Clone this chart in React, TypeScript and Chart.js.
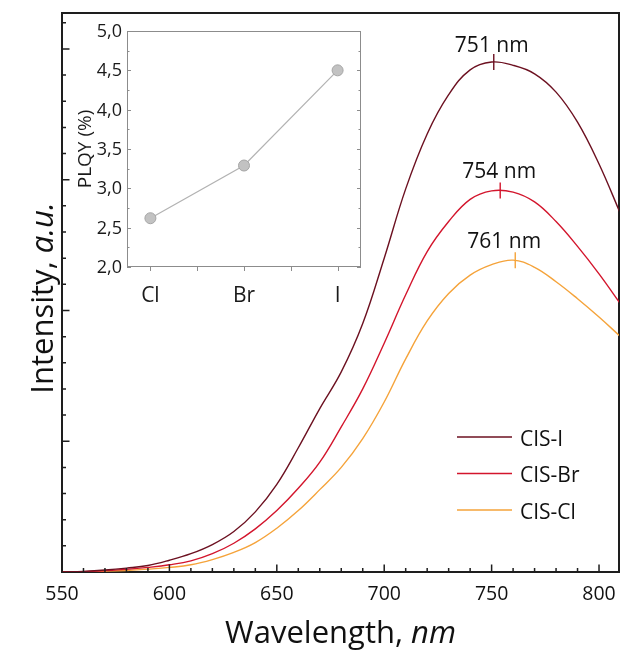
import React, { useEffect, useRef } from "react";
import { Chart, registerables } from "chart.js";

Chart.register(...registerables);

// ---------- data ----------
const wavelengths = [550, 560, 570, 580, 590, 600, 610, 620, 630, 640, 650, 660, 670, 680, 690, 700, 710, 720, 730, 740, 750, 760, 770, 780, 790, 800, 810];
const intensityI = [0, 0.005, 0.015, 0.03, 0.05, 0.09, 0.14, 0.21, 0.31, 0.46, 0.67, 0.95, 1.25, 1.53, 1.9, 2.4, 2.93, 3.35, 3.65, 3.84, 3.9, 3.875, 3.81, 3.67, 3.44, 3.12, 2.74];
const intensityBr = [0, 0.003, 0.01, 0.02, 0.035, 0.055, 0.085, 0.14, 0.22, 0.33, 0.47, 0.64, 0.84, 1.11, 1.4, 1.75, 2.12, 2.45, 2.68, 2.85, 2.915, 2.905, 2.83, 2.68, 2.49, 2.28, 2.05];
const intensityCl = [0, 0.002, 0.006, 0.012, 0.022, 0.035, 0.055, 0.095, 0.15, 0.225, 0.335, 0.47, 0.63, 0.8, 1.02, 1.3, 1.63, 1.92, 2.13, 2.27, 2.35, 2.385, 2.33, 2.22, 2.09, 1.95, 1.8];
const seriesLabels = ["CIS-I", "CIS-Br", "CIS-Cl"];
const peakWavelengths = [751, 754, 761];
const peakIntensities = [3.9, 2.918, 2.385];
const peakLabels = ["751 nm", "754 nm", "761 nm"];
const xTickValues = [550, 600, 650, 700, 750, 800];

const halides = ["Cl", "Br", "I"];
const plqy = [2.62, 3.29, 4.5];
const plqyTicks = [2.0, 2.5, 3.0, 3.5, 4.0, 4.5, 5.0];

// ---------- styles ----------
const FONT = '"Open Sans", "Noto Sans", sans-serif';
const seriesColors = ["#6c1020", "#d3152c", "#f5a33a"];
const peakLabelOffsets = [
  [-2, -10],
  [-1, -12],
  [-11, -12],
];

function drawMixed(
  ctx: CanvasRenderingContext2D,
  parts: [string, boolean][],
  size: number,
  cx: number,
  baseY: number
) {
  let total = 0;
  const widths = parts.map(([t, it]) => {
    ctx.font = `${it ? "italic " : ""}${size}px ${FONT}`;
    const w = ctx.measureText(t).width;
    total += w;
    return w;
  });
  let x = cx - total / 2;
  ctx.textAlign = "left";
  ctx.textBaseline = "alphabetic";
  parts.forEach(([t, it], i) => {
    ctx.font = `${it ? "italic " : ""}${size}px ${FONT}`;
    ctx.fillText(t, x, baseY);
    x += widths[i];
  });
}

const mainDecor = {
  id: "mainDecor",
  beforeDatasetsDraw(chart: any) {
    const { ctx, chartArea: a } = chart;
    ctx.save();
    ctx.strokeStyle = "#1e1e1e";
    ctx.lineWidth = 2;
    ctx.strokeRect(a.left, a.top, a.right - a.left, a.bottom - a.top);
    ctx.restore();
  },
  afterDraw(chart: any) {
    const { ctx, chartArea: a } = chart;
    const xs = chart.scales.x;
    const ys = chart.scales.y;
    ctx.save();
    ctx.strokeStyle = "#1e1e1e";
    ctx.lineWidth = 1.5;
    ctx.beginPath();
    for (let v = 550; v <= xs.max; v += 10) {
      const px = xs.getPixelForValue(v);
      const len = v % 50 === 0 ? 7.5 : 4;
      ctx.moveTo(px, a.bottom);
      ctx.lineTo(px, a.bottom - len);
    }
    for (let k = 1; k * 0.2 <= ys.max; k++) {
      const py = ys.getPixelForValue(k * 0.2);
      const len = k % 5 === 0 ? 7.5 : 4;
      ctx.moveTo(a.left, py);
      ctx.lineTo(a.left + len, py);
    }
    ctx.stroke();

    // x tick labels
    ctx.fillStyle = "#111";
    ctx.font = `19.5px ${FONT}`;
    ctx.textAlign = "center";
    ctx.textBaseline = "alphabetic";
    xTickValues.forEach((v) => ctx.fillText(String(v), xs.getPixelForValue(v), 600));

    // axis titles
    drawMixed(ctx, [["Wavelength, ", false], ["nm", true]], 31, (a.left + a.right) / 2, 643);
    ctx.save();
    ctx.translate(53, 298);
    ctx.rotate(-Math.PI / 2);
    drawMixed(ctx, [["Intensity, ", false], ["a.u.", true]], 31, 0, 0);
    ctx.restore();

    // peak labels
    ctx.font = `21px ${FONT}`;
    ctx.textAlign = "center";
    ctx.fillStyle = "#111";
    peakLabels.forEach((lab, i) => {
      const px = xs.getPixelForValue(peakWavelengths[i]);
      const py = ys.getPixelForValue(peakIntensities[i]);
      ctx.fillText(lab, px + peakLabelOffsets[i][0], py + peakLabelOffsets[i][1]);
    });

    // legend
    seriesLabels.forEach((lab, i) => {
      const ly = 437 + i * 36.5;
      ctx.strokeStyle = seriesColors[i];
      ctx.lineWidth = 1.5;
      ctx.beginPath();
      ctx.moveTo(457, ly);
      ctx.lineTo(512, ly);
      ctx.stroke();
      ctx.fillStyle = "#111";
      ctx.font = `21px ${FONT}`;
      ctx.textAlign = "left";
      ctx.fillText(lab, 520, ly + 8.5);
    });
    ctx.restore();
  },
};

const insetDecor = {
  id: "insetDecor",
  beforeDatasetsDraw(chart: any) {
    const { ctx, chartArea: a } = chart;
    const xs = chart.scales.x;
    const ys = chart.scales.y;
    ctx.save();
    ctx.fillStyle = "#ffffff";
    ctx.fillRect(a.left, a.top, a.right - a.left, a.bottom - a.top);
    ctx.strokeStyle = "#8c8c8c";
    ctx.lineWidth = 1;
    ctx.strokeRect(a.left + 0.5, a.top + 0.5, a.right - a.left - 1, a.bottom - a.top - 1);
    ctx.beginPath();
    for (let k = 0; k <= 12; k++) {
      const v = 2 + k * 0.25;
      const py = Math.round(ys.getPixelForValue(v)) + 0.5;
      const len = k % 2 === 0 ? 4 : 2.5;
      ctx.moveTo(a.left, py);
      ctx.lineTo(a.left + len, py);
      ctx.moveTo(a.right, py);
      ctx.lineTo(a.right - len, py);
    }
    for (let k = 0; k <= 4; k++) {
      const px = Math.round(xs.getPixelForValue(k * 0.5)) + 0.5;
      ctx.moveTo(px, a.bottom);
      ctx.lineTo(px, a.bottom + 4);
    }
    ctx.stroke();
    ctx.restore();
  },
  afterDraw(chart: any) {
    const { ctx, chartArea: a } = chart;
    const xs = chart.scales.x;
    const ys = chart.scales.y;
    ctx.save();
    ctx.fillStyle = "#1a1a1a";
    ctx.font = `18px ${FONT}`;
    ctx.textAlign = "right";
    ctx.textBaseline = "middle";
    plqyTicks.forEach((v) => {
      ctx.fillText(v.toFixed(1).replace(".", ","), a.left - 5, ys.getPixelForValue(v) + 1);
    });
    ctx.font = `21px ${FONT}`;
    ctx.textAlign = "center";
    ctx.textBaseline = "alphabetic";
    halides.forEach((h, i) => ctx.fillText(h, xs.getPixelForValue(i), 302));
    ctx.save();
    ctx.translate(91, (a.top + a.bottom) / 2);
    ctx.rotate(-Math.PI / 2);
    ctx.font = `19px ${FONT}`;
    ctx.textAlign = "center";
    ctx.fillText("PLQY (%)", 0, 0);
    ctx.restore();
    ctx.restore();
  },
};

export default function App() {
  const mainRef = useRef<HTMLCanvasElement>(null);
  const insetRef = useRef<HTMLCanvasElement>(null);

  useEffect(() => {
    const series = [intensityI, intensityBr, intensityCl];
    const lineSets = series.map((vals, i) => ({
      type: "line" as const,
      label: seriesLabels[i],
      data: wavelengths.map((w, j) => ({ x: w, y: vals[j] })),
      borderColor: seriesColors[i],
      borderWidth: 1.4,
      pointRadius: 0,
      fill: false,
      tension: 0.4,
    }));
    const peakSets = peakWavelengths.map((w, i) => ({
      type: "scatter" as const,
      label: peakLabels[i],
      data: [{ x: w, y: peakIntensities[i] }],
      showLine: false,
      pointStyle: "line" as const,
      rotation: 90,
      pointRadius: 8,
      pointBorderWidth: 1.4,
      borderColor: seriesColors[i],
      pointBorderColor: seriesColors[i],
    }));
    const main = new Chart(mainRef.current as HTMLCanvasElement, {
      type: "line",
      data: { datasets: [...lineSets, ...peakSets] as any },
      options: {
        animation: false,
        responsive: false,
        devicePixelRatio: 1,
        layout: { autoPadding: false, padding: { left: 62, right: 1, top: 13, bottom: 78 } },
        scales: {
          x: { type: "linear", min: 550, max: 809.3, display: false },
          y: { type: "linear", min: 0, max: 4.275, display: false },
        },
        plugins: { legend: { display: false }, tooltip: { enabled: false } },
      },
      plugins: [mainDecor],
    });

    const inset = new Chart(insetRef.current as HTMLCanvasElement, {
      type: "line",
      data: {
        datasets: [
          {
            label: "PLQY",
            data: halides.map((h, i) => ({ x: i, y: plqy[i] })),
            borderColor: "#b2b2b2",
            borderWidth: 1.2,
            pointRadius: 5.5,
            pointBackgroundColor: "#c2c2c2",
            pointBorderColor: "#a6a6a6",
            pointBorderWidth: 1,
            tension: 0,
          },
        ],
      },
      options: {
        animation: false,
        responsive: false,
        devicePixelRatio: 1,
        layout: { autoPadding: false, padding: { left: 127, right: 259, top: 31, bottom: 383 } },
        scales: {
          x: { type: "linear", min: -0.25, max: 2.25, display: false },
          y: { type: "linear", min: 2, max: 5, display: false },
        },
        plugins: { legend: { display: false }, tooltip: { enabled: false } },
      },
      plugins: [insetDecor],
    });

    return () => {
      main.destroy();
      inset.destroy();
    };
  }, []);

  return (
    <div style={{ position: "absolute", left: 0, top: 0, width: 620, height: 650, background: "#fff" }}>
      <canvas ref={mainRef} width={620} height={650} style={{ position: "absolute", left: 0, top: 0 }} />
      <canvas ref={insetRef} width={620} height={650} style={{ position: "absolute", left: 0, top: 0 }} />
    </div>
  );
}
